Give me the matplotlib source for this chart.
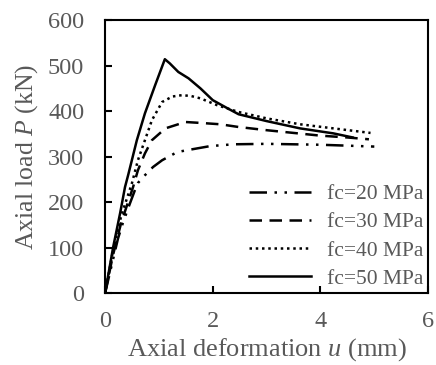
import matplotlib
matplotlib.use("Agg")
import matplotlib.pyplot as plt

plt.rcParams['font.family'] = ['Liberation Serif', 'DejaVu Serif']
plt.rcParams['mathtext.fontset'] = 'custom'
plt.rcParams['mathtext.it'] = 'Liberation Serif:italic'
plt.rcParams['mathtext.rm'] = 'Liberation Serif'

# fc = 20 MPa
u20 = [0, 0.24, 0.33, 0.43, 0.55, 0.61, 0.74, 0.89, 1.06, 1.34, 1.52, 1.95, 2.38, 3.0, 3.5, 4.0, 4.5, 5.0]
p20 = [0, 120, 154, 187, 225, 242, 259, 277, 292, 310, 314, 323, 327, 328, 327, 326, 324, 322]

# fc = 30 MPa
u30 = [0, 0.15, 0.3, 0.52, 0.61, 0.74, 0.87, 1.12, 1.49, 1.77, 2.14, 2.48, 3.0, 3.5, 4.0, 4.5, 4.9]
p30 = [0, 85, 155, 233, 270, 307, 336, 362, 376, 374, 371, 365, 358, 352, 346, 342, 338]

# fc = 40 MPa
u40 = [0, 0.15, 0.3, 0.5, 0.61, 0.74, 0.87, 1.06, 1.25, 1.43, 1.6, 1.77, 2.08, 2.48, 3.0, 3.62, 4.24, 4.93]
p40 = [0, 95, 170, 242, 292, 336, 380, 420, 432, 435, 433, 428, 413, 398, 384, 371, 362, 352]

# fc = 50 MPa
u50 = [0, 0.15, 0.28, 0.37, 0.43, 0.59, 0.74, 0.93, 1.11, 1.2, 1.36, 1.55, 1.77, 2.0, 2.26, 2.48, 3.0, 3.62, 4.24, 4.6]
p50 = [0, 101, 176, 233, 260, 336, 395, 457, 514, 505, 486, 472, 450, 424, 407, 393, 378, 362, 351, 342]

fig = plt.figure(figsize=(4.36, 3.65), dpi=100)
ax = fig.add_axes([0.241, 0.197, 0.741, 0.748])

ax.plot(u20, p20, color='black', lw=1.8, linestyle=(0, (7, 3, 1, 3, 1, 3)), label='fc=20 MPa')
ax.plot(u30, p30, color='black', lw=1.8, linestyle=(0, (5, 3)), label='fc=30 MPa')
ax.plot(u40, p40, color='black', lw=1.8, linestyle=(0, (1, 1.5)), label='fc=40 MPa')
ax.plot(u50, p50, color='black', lw=1.8, linestyle='-', label='fc=50 MPa')

ax.set_xlim(0, 6)
ax.set_ylim(0, 600)
ax.set_xticks([0, 2, 4, 6])
ax.set_yticks([0, 100, 200, 300, 400, 500, 600])
ax.tick_params(direction='in', length=5, width=1.5, colors='black',
               labelcolor='#595959', labelsize=17.5)
ax.tick_params(axis='x', pad=13)
ax.tick_params(axis='y', pad=15)
for s in ax.spines.values():
    s.set_linewidth(1.5)

ax.set_xlabel('Axial deformation $u$ (mm)', fontsize=19, color='#595959', labelpad=3)
ax.set_ylabel('Axial load $P$ (kN)', fontsize=18.5, color='#595959', labelpad=6)

leg = ax.legend(loc='lower right', frameon=False, fontsize=15.5, handlelength=2.9,
                labelspacing=0.38, borderaxespad=0.0, borderpad=0.2, handletextpad=0.75)
for t in leg.get_texts():
    t.set_color('#595959')

fig.savefig('out.png', dpi=100)
